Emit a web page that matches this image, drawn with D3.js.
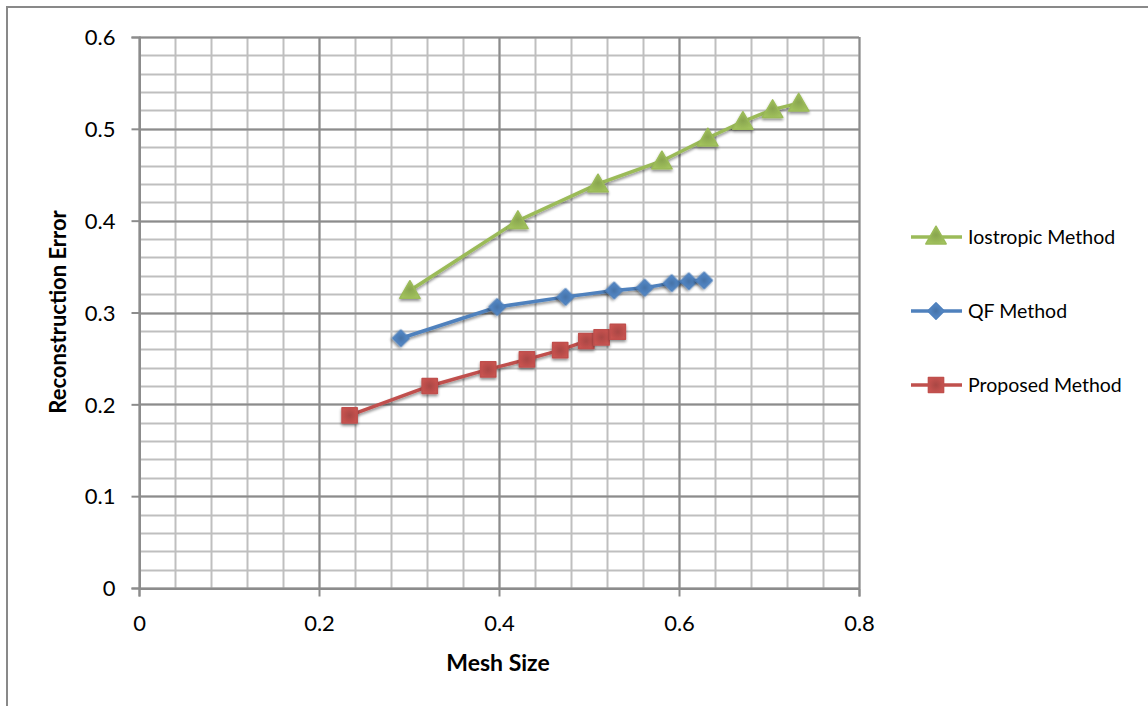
<!DOCTYPE html>
<html>
<head>
<meta charset="utf-8">
<script src="https://cdn.jsdelivr.net/npm/d3@7"></script>
<style>
  html, body { margin: 0; padding: 0; background: #fff; }
  svg { display: block; font-family: Lato, "Open Sans", sans-serif; }
</style>
</head>
<body>
<svg id="chart" width="1148" height="706"></svg>
<script>
// Mesh size vs. reconstruction error for three methods
const seriesNames = ["Iostropic Method", "QF Method", "Proposed Method"];
const seriesColors = ["#9BBB59", "#4F81BD", "#C0504D"];
const seriesSymbols = ["triangle", "diamond", "square"];

const isoX = [0.301, 0.421, 0.510, 0.581, 0.632, 0.671, 0.704, 0.733];
const isoY = [0.324, 0.400, 0.440, 0.465, 0.490, 0.508, 0.521, 0.528];

const qfX = [0.291, 0.398, 0.474, 0.528, 0.562, 0.592, 0.611, 0.628];
const qfY = [0.272, 0.306, 0.317, 0.324, 0.327, 0.332, 0.334, 0.335];

const propX = [0.234, 0.323, 0.388, 0.431, 0.468, 0.497, 0.514, 0.532];
const propY = [0.188, 0.220, 0.238, 0.249, 0.259, 0.269, 0.273, 0.279];

const xTicks = [0, 0.2, 0.4, 0.6, 0.8];
const yTicks = [0, 0.1, 0.2, 0.3, 0.4, 0.5, 0.6];
const xLabel = "Mesh Size";
const yLabel = "Reconstruction Error";

const seriesX = [isoX, qfX, propX];
const seriesY = [isoY, qfY, propY];

const svg = d3.select("#chart");

// outer chart frame
svg.append("rect")
  .attr("x", 7).attr("y", 7).attr("width", 1160).attr("height", 720)
  .attr("fill", "#fff").attr("stroke", "#898989").attr("stroke-width", 2);

const plot = { left: 139, right: 859, top: 37, bottom: 588 };
const x = d3.scaleLinear().domain([0, 0.8]).range([plot.left, plot.right]);
const y = d3.scaleLinear().domain([0, 0.6]).range([plot.bottom, plot.top]);

const defs = svg.append("defs");
const shadow = defs.append("filter").attr("id", "shadow")
  .attr("x", "-50%").attr("y", "-50%").attr("width", "200%").attr("height", "200%");
shadow.append("feGaussianBlur").attr("in", "SourceAlpha").attr("stdDeviation", 1.6).attr("result", "b");
shadow.append("feOffset").attr("in", "b").attr("dx", 0).attr("dy", 2).attr("result", "o");
shadow.append("feComponentTransfer").attr("in", "o").attr("result", "s")
  .append("feFuncA").attr("type", "linear").attr("slope", 0.45);
const merge = shadow.append("feMerge");
merge.append("feMergeNode").attr("in", "s");
merge.append("feMergeNode").attr("in", "SourceGraphic");

// gradient fills for markers
seriesColors.forEach((c, i) => {
  const g = defs.append("radialGradient").attr("id", "grad" + i)
    .attr("cx", "50%").attr("cy", "50%").attr("r", "60%");
  g.append("stop").attr("offset", "0%").attr("stop-color", d3.color(c).darker(0.35));
  g.append("stop").attr("offset", "100%").attr("stop-color", d3.color(c).brighter(0.15));
});

// minor grid
const xMinor = d3.range(0, 0.8001, 0.04);
const yMinor = d3.range(0, 0.6001, 0.02);
const grid = svg.append("g");
grid.selectAll(".vmin").data(xMinor).join("line")
  .attr("x1", d => Math.round(x(d)) + 0.5).attr("x2", d => Math.round(x(d)) + 0.5)
  .attr("y1", plot.top).attr("y2", plot.bottom)
  .attr("stroke", "#bfbfbf").attr("stroke-width", 2);
grid.selectAll(".hmin").data(yMinor).join("line")
  .attr("y1", d => Math.round(y(d)) + 0.5).attr("y2", d => Math.round(y(d)) + 0.5)
  .attr("x1", plot.left).attr("x2", plot.right)
  .attr("stroke", "#bfbfbf").attr("stroke-width", 2);
// major grid
grid.selectAll(".vmaj").data(xTicks).join("line")
  .attr("x1", d => Math.round(x(d)) + 0.5).attr("x2", d => Math.round(x(d)) + 0.5)
  .attr("y1", plot.top).attr("y2", plot.bottom)
  .attr("stroke", "#8c8c8c").attr("stroke-width", 2);
grid.selectAll(".hmaj").data(yTicks).join("line")
  .attr("y1", d => Math.round(y(d)) + 0.5).attr("y2", d => Math.round(y(d)) + 0.5)
  .attr("x1", plot.left).attr("x2", plot.right)
  .attr("stroke", "#8c8c8c").attr("stroke-width", 2);

// axes
const fmt = d => String(+d.toFixed(1));
const xAxis = svg.append("g").attr("transform", `translate(0,${plot.bottom + 0.5})`)
  .call(d3.axisBottom(x).tickValues(xTicks).tickFormat(fmt).tickSize(8).tickPadding(19));
const yAxis = svg.append("g").attr("transform", `translate(${plot.left + 0.5},0)`)
  .call(d3.axisLeft(y).tickValues(yTicks).tickFormat(fmt).tickSize(8).tickPadding(16));
[xAxis, yAxis].forEach(a => {
  a.select(".domain").attr("stroke", "#8c8c8c").attr("stroke-width", 2);
  a.selectAll(".tick line").attr("stroke", "#8c8c8c").attr("stroke-width", 2);
  a.selectAll(".tick text").attr("fill", "#000").style("font-size", "22px")
    .style("font-family", "Lato, 'Open Sans', sans-serif");
});
yAxis.selectAll(".tick text").attr("dy", "0.35em");

// axis titles
svg.append("text").attr("x", 498).attr("y", 671).attr("text-anchor", "middle")
  .style("font-size", "23px").style("font-weight", "bold").text(xLabel);
svg.append("text").attr("transform", "translate(66,312) rotate(-90)").attr("text-anchor", "middle")
  .style("font-size", "22px").style("font-weight", "bold").text(yLabel);

// marker shapes
const symbolOf = { triangle: d3.symbolTriangle, diamond: d3.symbolSquare, square: d3.symbolSquare };
const sizeOf = { triangle: 180, diamond: 135, square: 230 };
const rotOf = { triangle: 0, diamond: 45, square: 0 };
function marker(sel, i) {
  const s = seriesSymbols[i];
  sel.attr("d", d3.symbol(symbolOf[s], sizeOf[s]))
    .attr("fill", `url(#grad${i})`)
    .attr("stroke", seriesColors[i]).attr("stroke-width", 1.5)
    .attr("stroke-linejoin", "round")
    .attr("filter", "url(#shadow)");
}

const line = d3.line().x(d => x(d[0])).y(d => y(d[1]));
// draw series from back (proposed) to front (isotropic)
[2, 1, 0].forEach(i => {
  const pts = seriesX[i].map((v, k) => [v, seriesY[i][k]]);
  const s = seriesSymbols[i];
  const g = svg.append("g");
  g.append("path").datum(pts).attr("d", line)
    .attr("fill", "none").attr("stroke", seriesColors[i]).attr("stroke-width", 3.5)
    .attr("filter", "url(#shadow)");
  g.selectAll("path.m").data(pts).join("path").attr("class", "m")
    .attr("transform", d => {
      const dy = s === "triangle" ? 2 : 0;
      return `translate(${x(d[0])},${y(d[1]) + dy}) rotate(${rotOf[s]})`;
    })
    .call(marker, i);
});

// legend
const legendY = [237, 311, 385];
const legend = svg.append("g");
seriesNames.forEach((name, i) => {
  const s = seriesSymbols[i];
  const g = legend.append("g").attr("transform", `translate(0,${legendY[i]})`);
  g.append("line").attr("x1", 911).attr("x2", 962).attr("y1", 0).attr("y2", 0)
    .attr("stroke", seriesColors[i]).attr("stroke-width", 3.5);
  g.append("path").attr("transform", `translate(936,${s === "triangle" ? 1 : 0}) rotate(${rotOf[s]})`)
    .call(marker, i).attr("filter", null);
  g.append("text").attr("x", 968).attr("y", 0).attr("dy", "0.35em")
    .style("font-size", "19.5px").text(name);
});
</script>
</body>
</html>
